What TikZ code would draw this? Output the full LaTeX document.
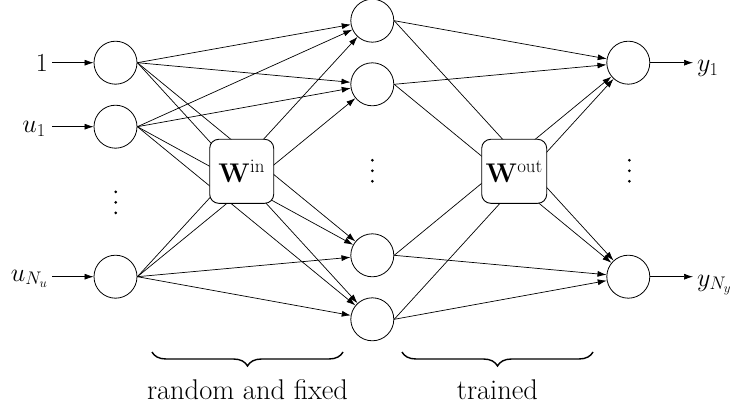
\RequirePackage{fix-cm}
\documentclass[tikz,border=0pt]{standalone}
\usetikzlibrary{arrows.meta,decorations.pathreplacing}
\begin{document}
\begin{tikzpicture}[x=1pt,y=-1pt,
  neuron/.style={circle,draw,line width=0.8pt,minimum size=43pt,inner sep=0pt},
  wbox/.style={draw,fill=white,rounded corners=9pt,line width=0.9pt,minimum width=64pt,minimum height=64pt,inner sep=0pt,font=\fontsize{27}{32}\selectfont},
  conn/.style={line width=0.7pt,-{Latex[length=9pt,width=6pt]}},
  lab/.style={font=\fontsize{26}{30}\selectfont, inner sep=0pt},
  txt/.style={font=\fontsize{28.5}{33}\selectfont, inner sep=0pt},
  brc/.style={decorate,decoration={brace,mirror,amplitude=14pt},line width=1.4pt},
  dotc/.style={circle,fill,inner sep=0pt,minimum size=3pt}
]
\useasboundingbox (0,0) rectangle (732,412);
% neurons
\node[neuron] (i1) at (115.5,62.7) {};
\node[neuron] (i2) at (115.5,126.7) {};
\node[neuron] (i3) at (115.5,276.7) {};
\node[neuron] (h1) at (372.3,20.7) {};
\node[neuron] (h2) at (372.3,84.3) {};
\node[neuron] (h3) at (372.3,255.3) {};
\node[neuron] (h4) at (372.3,319.3) {};
\node[neuron] (o1) at (628.3,62.7) {};
\node[neuron] (o2) at (628.3,276.7) {};
% connections
\foreach \i in {i1,i2,i3}
  \foreach \h in {h1,h2,h3,h4}
    \draw[conn] (\i.east) -- (\h);
\foreach \h in {h1,h2,h3,h4}
  \foreach \o in {o1,o2}
    \draw[conn] (\h.east) -- (\o);
% weight boxes
\node[wbox] (win) at (241.7,171.3) {$\mathbf{W}^{\mathrm{in}}$};
\node[wbox,minimum width=65pt] (wout) at (514.2,171.3) {$\mathbf{W}^{\mathrm{out}}$};
% vertical dots
\foreach \x/\y/\n in {115.7/202.3/a,372.3/170.8/b,629.3/170.8/c}{
  \node[dotc] (\n1) at (\x,\y-10.5) {};
  \node[dotc] (\n2) at (\x,\y) {};
  \node[dotc] (\n3) at (\x,\y+10.5) {};
}
% inputs
\coordinate (a1) at (52,62.7);
\coordinate (a2) at (52,126.7);
\coordinate (a3) at (52,276.7);
\node[lab,anchor=base east] (l1) at (48,72) {$1$};
\node[lab,anchor=base east] (l2) at (46,132.7) {$u_1$};
\node[lab,anchor=base east] (l3) at (48,281) {$u_{N_u}$};
\draw[conn] (a1) -- (i1);
\draw[conn] (a2) -- (i2);
\draw[conn] (a3) -- (i3);
% outputs
\coordinate (b1) at (693,62.7);
\coordinate (b2) at (693,276.7);
\draw[conn] (o1) -- (b1);
\draw[conn] (o2) -- (b2);
\node[lab,anchor=base west] (r1) at (697,71.7) {$y_1$};
\node[lab,anchor=base west] (r2) at (697,286) {$y_{N_y}$};
% braces
\coordinate (bl1) at (152,352);
\coordinate (br1) at (343,352);
\coordinate (bl2) at (402,352);
\coordinate (br2) at (593,352);
\draw[brc] (bl1) -- (br1);
\draw[brc] (bl2) -- (br2);
\node[txt,anchor=base] (t1) at (247.5,399.3) {random and fixed};
\node[txt,anchor=base] (t2) at (497.5,399.3) {trained};
\end{tikzpicture}
\end{document}
